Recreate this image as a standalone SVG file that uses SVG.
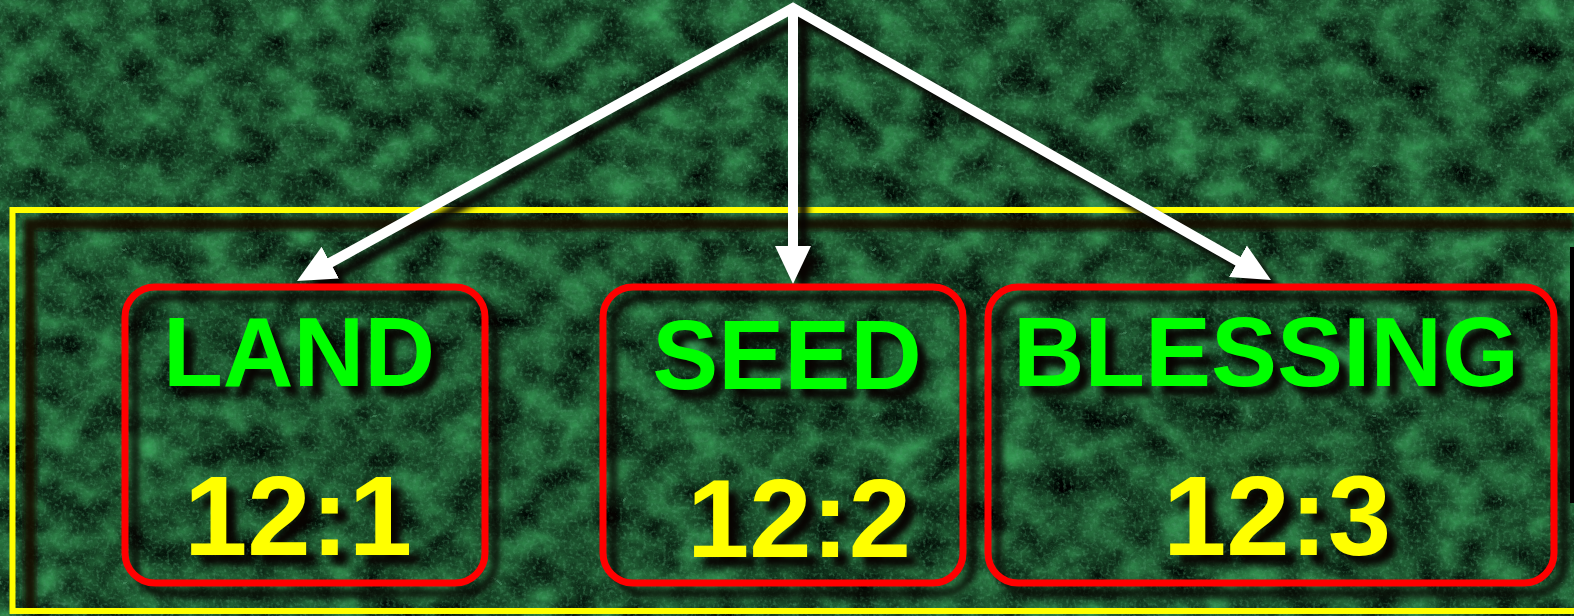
<svg xmlns="http://www.w3.org/2000/svg" width="1574" height="616" viewBox="0 0 1574 616">
  <defs>
    <filter id="marble" x="0" y="0" width="1574" height="616" filterUnits="userSpaceOnUse" color-interpolation-filters="sRGB">
      <feTurbulence type="fractalNoise" baseFrequency="0.025 0.03" numOctaves="6" seed="7" result="n"/>
      <feColorMatrix in="n" type="matrix" values="0.3 0 0 0 -0.05  0.8 0 0 0 -0.1  0.45 0 0 0 -0.06  0 0 0 0 1"/>
    </filter>
    <filter id="veins" x="0" y="0" width="1574" height="616" filterUnits="userSpaceOnUse" color-interpolation-filters="sRGB">
      <feTurbulence type="turbulence" baseFrequency="0.008 0.012" numOctaves="5" seed="11" result="t"/>
      <feColorMatrix in="t" type="matrix" values="0 0 0 0 0.4  0 0 0 0 0.7  0 0 0 0 0.52  -10 0 0 0 0.75"/>
    </filter>
    <filter id="speck" x="0" y="0" width="1574" height="616" filterUnits="userSpaceOnUse" color-interpolation-filters="sRGB">
      <feTurbulence type="fractalNoise" baseFrequency="0.3" numOctaves="2" seed="3" result="s"/>
      <feColorMatrix in="s" type="matrix" values="0 0 0 0 0.3  0 0 0 0 0.6  0 0 0 0 0.42  2.5 0 0 0 -1.2"/>
    </filter>
    <filter id="sh" x="-10%" y="-10%" width="130%" height="140%" color-interpolation-filters="sRGB">
      <feGaussianBlur in="SourceAlpha" stdDeviation="3.5"/>
      <feOffset dx="10" dy="10" result="b"/>
      <feFlood flood-color="#080402" flood-opacity="1"/>
      <feComposite in2="b" operator="in" result="s"/>
      <feMerge><feMergeNode in="s"/><feMergeNode in="SourceGraphic"/></feMerge>
    </filter>
    <filter id="blur2"><feGaussianBlur stdDeviation="2.5"/></filter>
    <marker id="head" markerUnits="userSpaceOnUse" markerWidth="40" markerHeight="40" viewBox="0 0 40 40" refX="8" refY="20" orient="auto-start-reverse">
      <path d="M0,2 L38,20 L0,38 z" fill="#ffffff"/>
    </marker>
    <style>
      .box { fill: none; stroke: #ff0000; stroke-width: 7; }
      .title { font-family: "Liberation Sans", Arial, sans-serif; font-weight: bold; fill: #00ff00; text-anchor: middle; }
      .ref { font-family: "Liberation Sans", Arial, sans-serif; font-weight: bold; fill: #ffff00; text-anchor: middle; }
      .arrow { fill: none; stroke: #ffffff; stroke-width: 10; stroke-linejoin: miter; }
    </style>
  </defs>

  <g id="background">
    <rect x="0" y="0" width="1574" height="616" fill="#174f30"/>
    <rect x="0" y="0" width="1574" height="616" filter="url(#marble)"/>
    <rect x="0" y="0" width="1574" height="616" filter="url(#veins)" opacity="0.55"/>
    <rect x="0" y="0" width="1574" height="616" filter="url(#speck)" opacity="0.55"/>
  </g>

  <g id="frame">
    <path d="M30,612 L30,224 L1574,224" fill="none" stroke="#120a05" stroke-width="12" opacity="0.9" filter="url(#blur2)"/>
    <rect x="12.5" y="210" width="1570" height="401" fill="none" stroke="#ffff00" stroke-width="6"/>
    <rect x="1570" y="247" width="4" height="256" fill="#000000"/>
  </g>

  <g id="connectors" filter="url(#sh)">
    <path class="arrow" d="M323.3,266.5 L793,8 L1244.9,265.2" marker-start="url(#head)" marker-end="url(#head)"/>
    <line class="arrow" x1="793" y1="10" x2="793" y2="254" marker-end="url(#head)"/>
  </g>

  <g id="node-land" filter="url(#sh)">
    <rect class="box" x="125" y="287" width="360" height="296" rx="30"/>
    <text class="title" x="299" y="386" font-size="98">LAND</text>
    <text class="ref" x="298" y="555" font-size="114">12:1</text>
  </g>

  <g id="node-seed" filter="url(#sh)">
    <rect class="box" x="603" y="287" width="360" height="296" rx="30"/>
    <text class="title" x="787" y="389" font-size="99">SEED</text>
    <text class="ref" x="799" y="557" font-size="112">12:2</text>
  </g>

  <g id="node-blessing" filter="url(#sh)">
    <rect class="box" x="988" y="287" width="566" height="296" rx="30"/>
    <text class="title" x="1266" y="386" font-size="99">BLESSING</text>
    <text class="ref" x="1277" y="555" font-size="114">12:3</text>
  </g>
</svg>
